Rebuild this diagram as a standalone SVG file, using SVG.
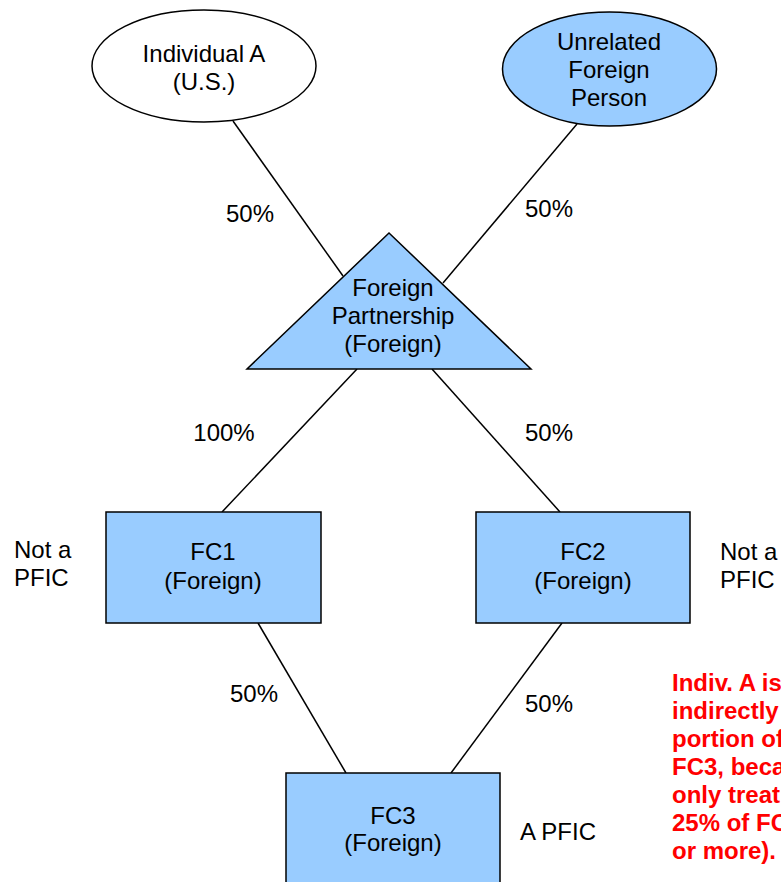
<svg xmlns="http://www.w3.org/2000/svg" width="781" height="882" viewBox="0 0 781 882">
<style>
.s{stroke:#000;stroke-width:1.5}
.b{fill:#99ccff}
.w{fill:#fff}
text{font-family:"Liberation Sans",Arial,sans-serif;font-size:24px;fill:#000}
.c{text-anchor:middle}
.r{fill:#ff0000;font-weight:bold;font-size:24px}
</style>
<rect width="781" height="882" fill="#fff"/>
<g id="connectors" class="s" fill="none">
<line x1="233" y1="121" x2="343" y2="276"/>
<line x1="577" y1="124" x2="443" y2="283"/>
<line x1="357" y1="369" x2="222" y2="512"/>
<line x1="432" y1="369" x2="560" y2="512"/>
<line x1="258" y1="623" x2="346" y2="773"/>
<line x1="562" y1="623" x2="451" y2="773"/>
</g>
<g id="individualA">
<ellipse cx="204" cy="66" rx="112" ry="56" class="s w"/>
<text class="c" x="204" y="62">Individual A</text>
<text class="c" x="204" y="90">(U.S.)</text>
</g>
<g id="unrelated">
<ellipse cx="609.5" cy="69" rx="107" ry="57" class="s b"/>
<text class="c" x="609" y="50">Unrelated</text>
<text class="c" x="609" y="78">Foreign</text>
<text class="c" x="609" y="106">Person</text>
</g>
<g id="partnership">
<polygon points="389,233 531,369 247,369" class="s b"/>
<text class="c" x="393" y="296">Foreign</text>
<text class="c" x="393" y="324">Partnership</text>
<text class="c" x="393" y="352">(Foreign)</text>
</g>
<g id="fc1">
<rect x="106" y="512" width="215" height="111" class="s b"/>
<text class="c" x="213" y="560">FC1</text>
<text class="c" x="213" y="589">(Foreign)</text>
</g>
<g id="fc2">
<rect x="476" y="512" width="214" height="111" class="s b"/>
<text class="c" x="583" y="560">FC2</text>
<text class="c" x="583" y="589">(Foreign)</text>
</g>
<g id="fc3">
<rect x="286" y="773" width="214" height="120" class="s b"/>
<text class="c" x="393" y="824">FC3</text>
<text class="c" x="393" y="851">(Foreign)</text>
</g>
<g id="labels">
<text class="c" x="250" y="222">50%</text>
<text class="c" x="549" y="217">50%</text>
<text class="c" x="224" y="441">100%</text>
<text class="c" x="549" y="441">50%</text>
<text class="c" x="254" y="702">50%</text>
<text class="c" x="549" y="712">50%</text>
<text x="14" y="558">Not a</text>
<text x="14" y="586">PFIC</text>
<text x="720" y="560">Not a</text>
<text x="720" y="588">PFIC</text>
<text x="520" y="840">A PFIC</text>
</g>
<g id="note">
<text class="r" x="672" y="691">Indiv. A is</text>
<text class="r" x="672" y="719">indirectly</text>
<text class="r" x="672" y="747">portion of</text>
<text class="r" x="672" y="775">FC3, beca</text>
<text class="r" x="672" y="803">only treat</text>
<text class="r" x="672" y="831">25% of FC</text>
<text class="r" x="672" y="859">or more).</text>
</g>
</svg>
